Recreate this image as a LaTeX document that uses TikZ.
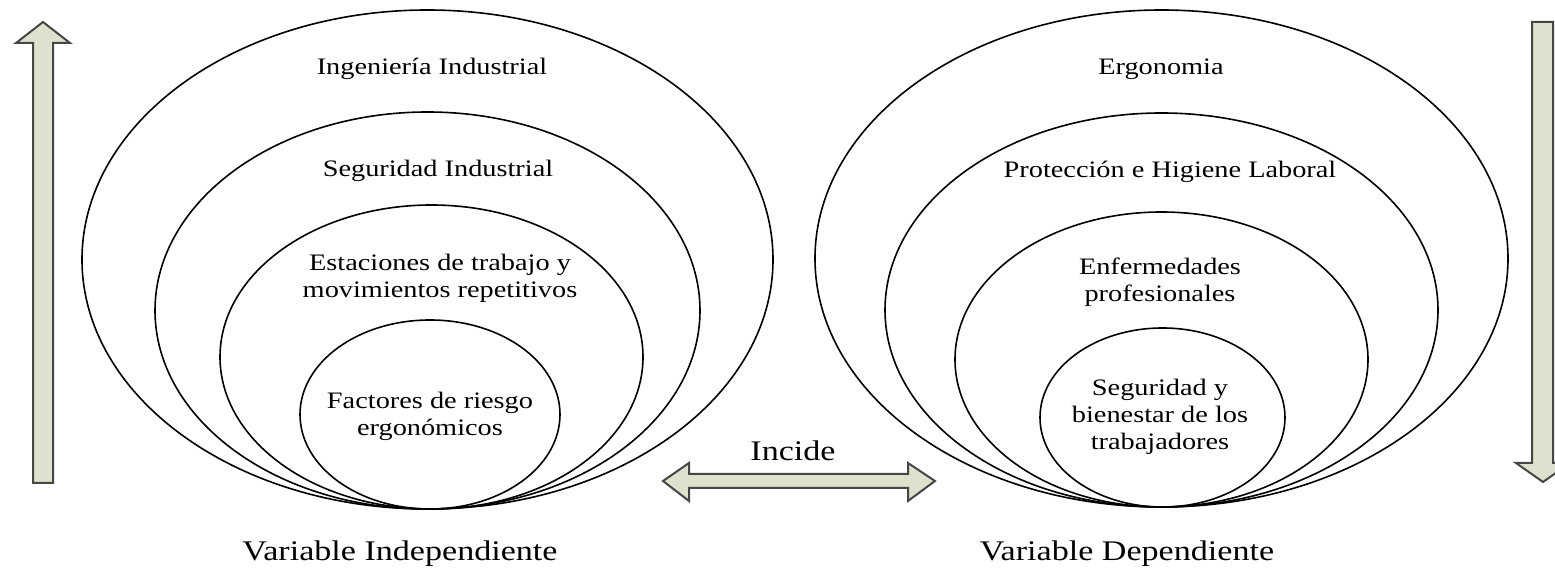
\documentclass[tikz,border=0pt]{standalone}
\usepackage{fontspec}
\setmainfont{Liberation Serif}
\usepackage{tikz}
\usetikzlibrary{calc}
\definecolor{relleno}{RGB}{222,225,206}
\definecolor{borde}{RGB}{70,70,70}
\pgfmathsetmacro{\escala}{1.2}

\begin{document}
\begin{tikzpicture}[x=0.5pt,y=-0.5pt,
  elipse/.style={draw=black, line width=0.8pt},
  flecha/.style={draw=borde, fill=relleno, line width=1pt, line join=miter},
  rotulo/.style={align=center, xscale=\escala, font=\fontsize{11.8}{13.5}\selectfont},
  titulo/.style={xscale=\escala, font=\fontsize{14.2}{17}\selectfont}]
  % Marco
  \clip (0,0) rectangle (1555,576);

  % Elipses de la variable independiente
  \draw[elipse] (427.5,259.5) ellipse [x radius=345.5, y radius=249.5];
  \draw[elipse] (427.5,310.5) ellipse [x radius=272.5, y radius=198.5];
  \draw[elipse] (431.5,357)   ellipse [x radius=211.5, y radius=152];
  \draw[elipse] (430,414.5)   ellipse [x radius=130,   y radius=94.5];

  % Elipses de la variable dependiente
  \draw[elipse] (1161.5,258.5) ellipse [x radius=346.5, y radius=248.5];
  \draw[elipse] (1161.5,310)   ellipse [x radius=276.5, y radius=197];
  \draw[elipse] (1161.5,359.5) ellipse [x radius=206.5, y radius=147.5];
  \draw[elipse] (1162.5,417.5) ellipse [x radius=122.5, y radius=89.5];

  % Textos de la izquierda
  \node[rotulo] (ingenieria) at (432,69)  {Ingeniería Industrial};
  \node[rotulo] (seguridad)  at (438,171) {Seguridad Industrial};
  \node[rotulo] (estaciones) at (440,278) {Estaciones de trabajo y\\movimientos repetitivos};
  \node[rotulo] (factores)   at (430,416) {Factores de riesgo\\ergonómicos};

  % Textos de la derecha
  \node[rotulo] (ergonomia)    at (1161,69)  {Ergonomia};
  \node[rotulo] (proteccion)   at (1170,172) {Protección e Higiene Laboral};
  \node[rotulo] (enfermedades) at (1160,282) {Enfermedades\\profesionales};
  \node[rotulo] (bienestar)    at (1160,417) {Seguridad y\\bienestar de los\\trabajadores};

  % Flecha hacia arriba
  \draw[flecha] (33,483) -- (33,43) -- (16,43) -- (43,22) -- (70,43)
    -- (53,43) -- (53,483) -- cycle;
  % Flecha hacia abajo
  \draw[flecha] (1532,22) -- (1532,463) -- (1516,463) -- (1543,482) -- (1570,463)
    -- (1553,463) -- (1553,22) -- cycle;
  % Flecha doble
  \draw[flecha] (663,481) -- (689,463) -- (689,474) -- (908,474) -- (908,463)
    -- (935,481) -- (908,501) -- (908,488) -- (689,488) -- (689,501) -- cycle;
  \node[titulo] (incide) at (793,451) {Incide};

  % Variables
  \node[titulo] (independiente) at (400,554)  {Variable Independiente};
  \node[titulo] (dependiente)   at (1127,554) {Variable Dependiente};
\end{tikzpicture}
\end{document}
